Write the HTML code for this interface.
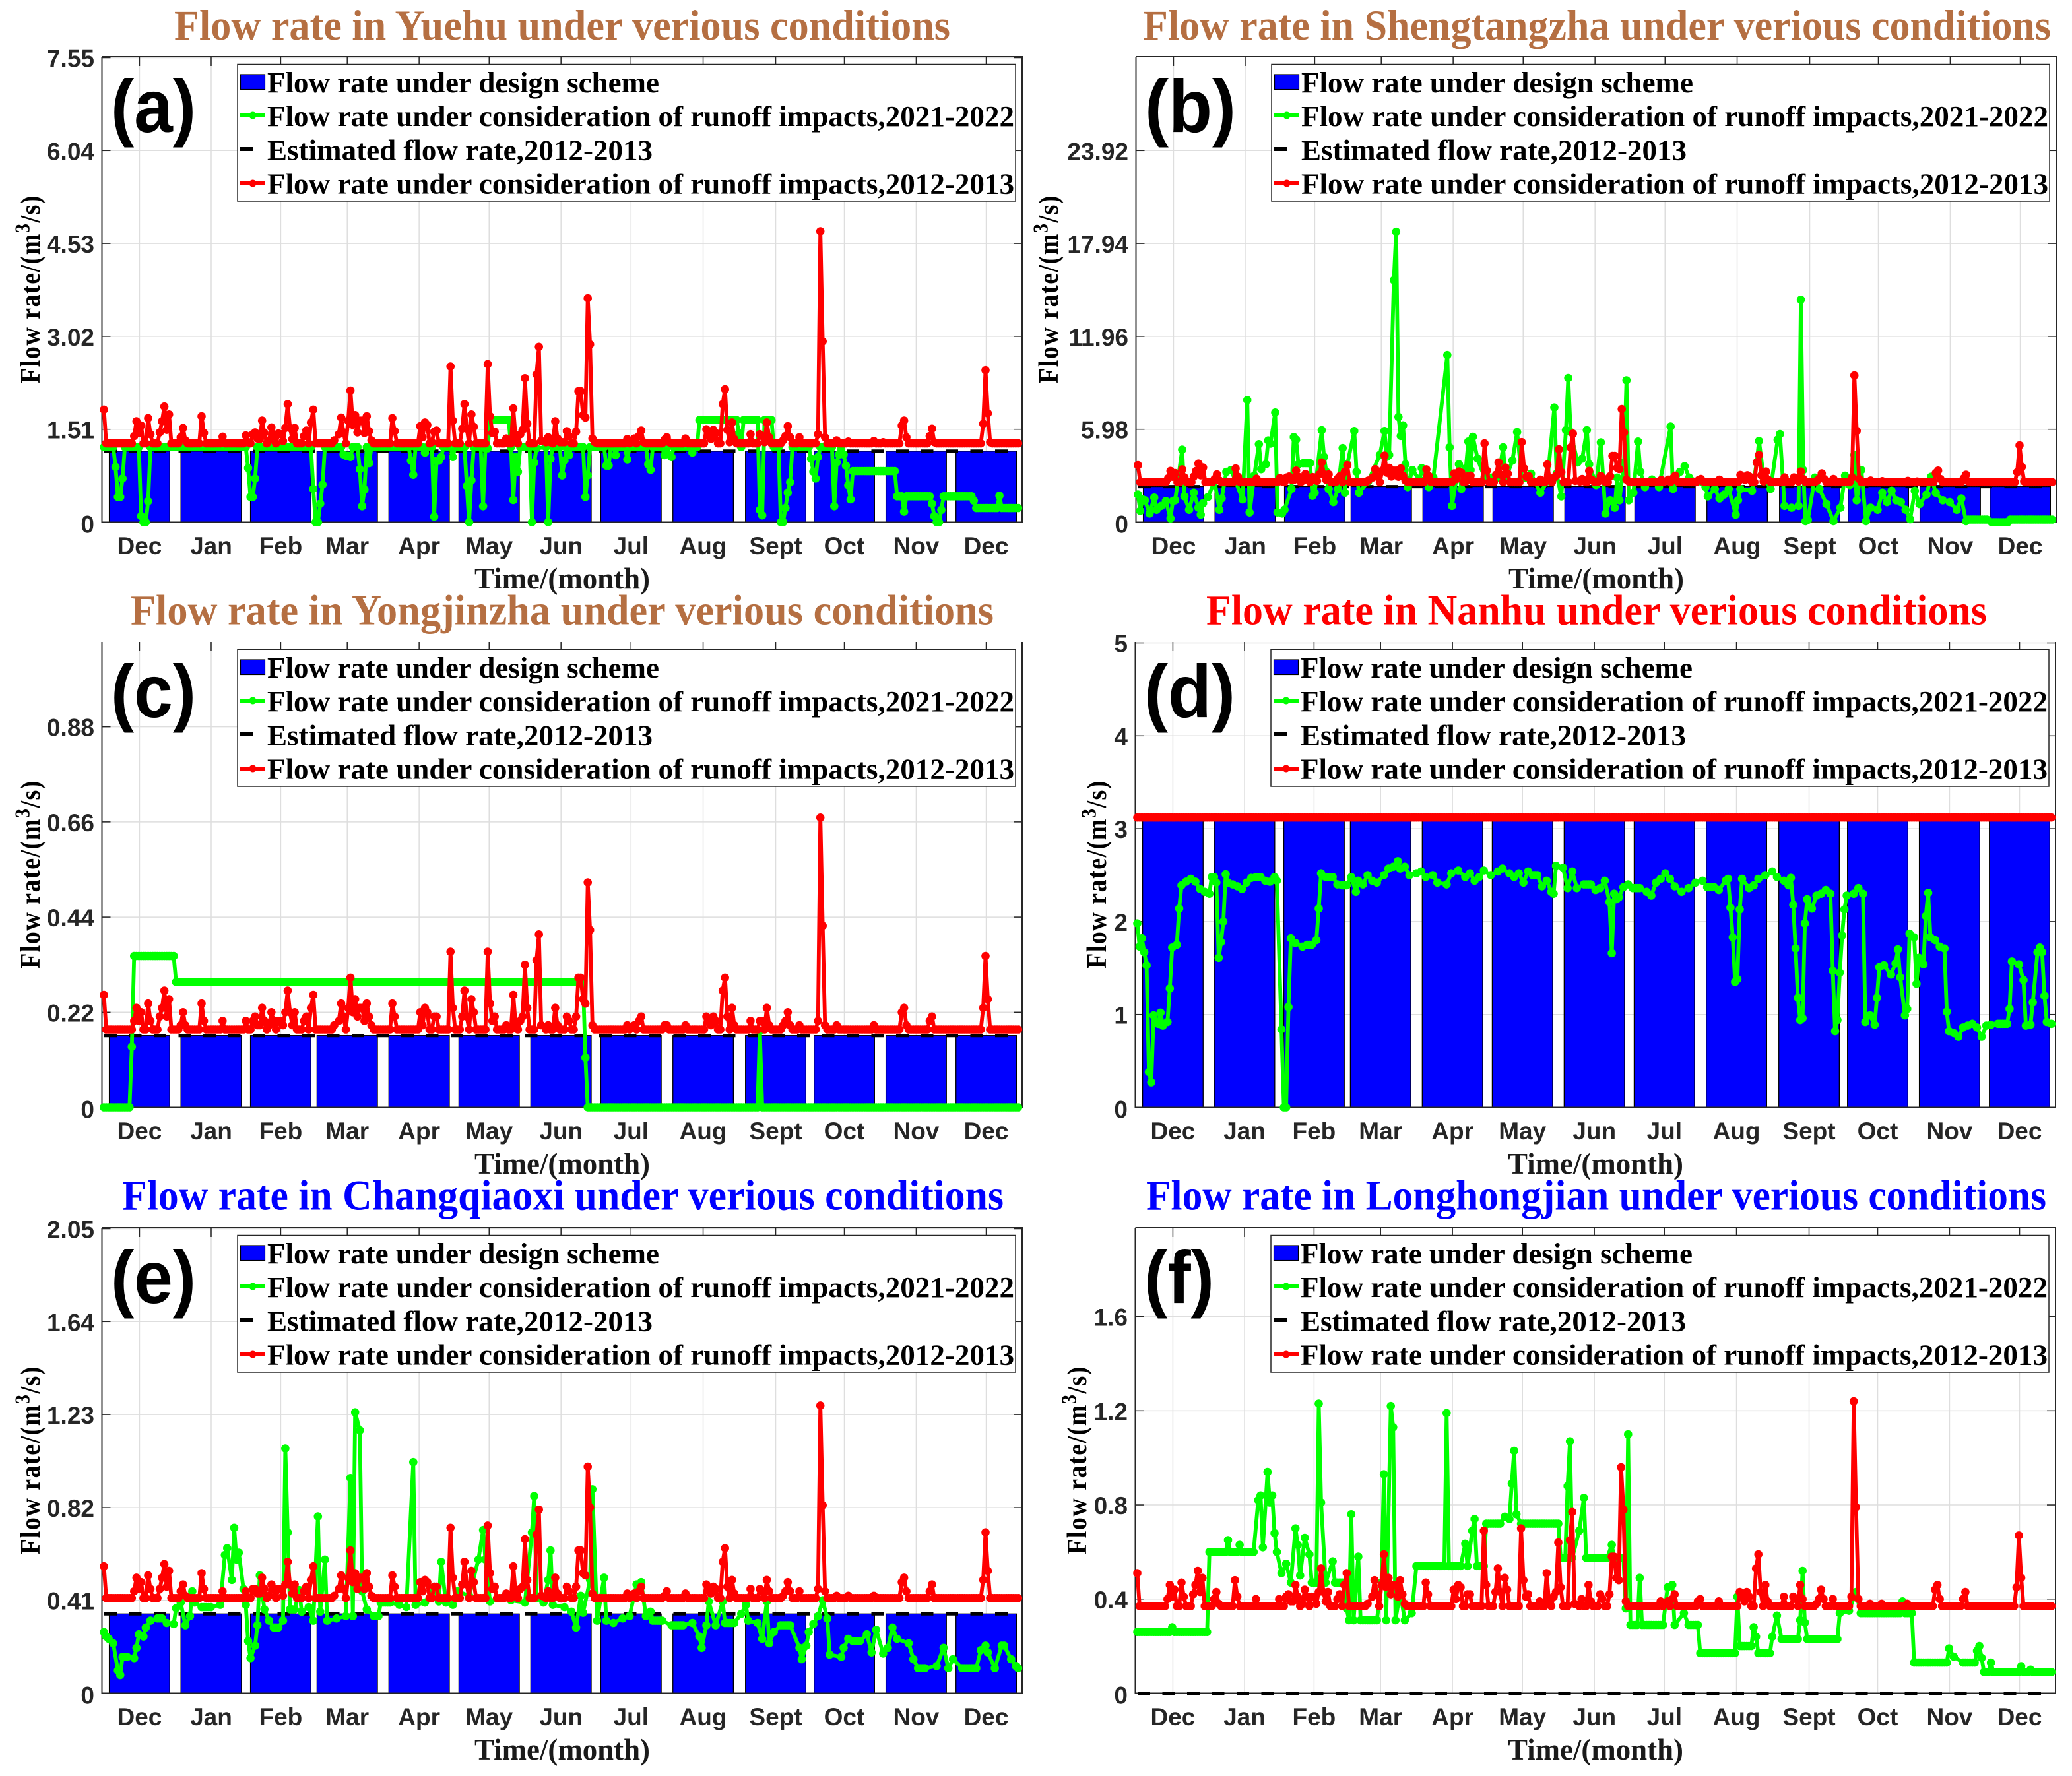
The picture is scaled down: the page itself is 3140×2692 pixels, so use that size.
<!DOCTYPE html>
<html lang="en">
<head>
<meta charset="utf-8">
<title>Flow rate under various conditions</title>
<style>
html,body{margin:0;padding:0;background:#fff;width:3140px;height:2692px;overflow:hidden}
svg{display:block}
.title{font-family:"Liberation Serif",serif;font-weight:bold;font-size:65px}
.leg{font-family:"Liberation Serif",serif;font-weight:bold;font-size:44px;fill:#000}
.tag{font-family:"Liberation Sans",sans-serif;font-weight:bold;font-size:113px;fill:#000}
.yl{font-family:"Liberation Serif",serif;font-weight:bold;font-size:38px;letter-spacing:1.5px;fill:#000}
.xl{font-family:"Liberation Serif",serif;font-weight:bold;font-size:45px;fill:#1a1a1a}
.tick{font-family:"Liberation Sans",sans-serif;font-weight:bold;font-size:37px;fill:#262626}
</style>
</head>
<body>
<svg id="chart" xmlns="http://www.w3.org/2000/svg" width="3140" height="2692" viewBox="0 0 3140 2692">
<rect x="0" y="0" width="3140" height="2692" fill="#fff"/>
<g id="plots"></g>

<g transform="translate(0,0)">
<text class="title" fill="#B56F42" x="264" y="60" textLength="1176" lengthAdjust="spacingAndGlyphs">Flow rate in Yuehu under verious conditions</text>
<text class="tag" x="168" y="200" textLength="129" lengthAdjust="spacingAndGlyphs">(a)</text>
<text class="yl" transform="translate(60,438) rotate(-90) scale(1,1.12)" text-anchor="middle">Flow rate/(m<tspan dy="-14" font-size="28">3</tspan><tspan dy="14">/s)</tspan></text>
<text class="xl" x="719" y="892" textLength="266" lengthAdjust="spacingAndGlyphs">Time/(month)</text>
<g>
<rect x="360" y="97.5" width="1179" height="207.5" fill="#fff" stroke="#262626" stroke-width="1.5"/>
<rect x="364.5" y="113" width="37" height="22.5" fill="#0000ff" stroke="#000" stroke-width="1.2"/>
<line x1="364" x2="402" y1="175" y2="175" stroke="#00ff00" stroke-width="6"/><circle cx="383" cy="175" r="5.5" fill="#00ff00"/>
<line x1="364" x2="384" y1="226" y2="226" stroke="#000" stroke-width="6"/>
<line x1="364" x2="402" y1="278" y2="278" stroke="#ff0000" stroke-width="6"/><circle cx="383" cy="278" r="5.5" fill="#ff0000"/>
<text class="leg" x="405" y="140" textLength="594" lengthAdjust="spacingAndGlyphs">Flow rate under design scheme</text>
<text class="leg" x="405" y="191" textLength="1132" lengthAdjust="spacingAndGlyphs">Flow rate under consideration of runoff impacts,2021-2022</text>
<text class="leg" x="405" y="242.5" textLength="584" lengthAdjust="spacingAndGlyphs">Estimated flow rate,2012-2013</text>
<text class="leg" x="405" y="293.5" textLength="1132" lengthAdjust="spacingAndGlyphs">Flow rate under consideration of runoff impacts,2012-2013</text>
</g>
</g>

<g transform="translate(1567,0)">
<text class="title" fill="#B56F42" x="165" y="60" textLength="1376" lengthAdjust="spacingAndGlyphs">Flow rate in Shengtangzha under verious conditions</text>
<text class="tag" x="168" y="200" textLength="138" lengthAdjust="spacingAndGlyphs">(b)</text>
<text class="yl" transform="translate(36,438) rotate(-90) scale(1,1.12)" text-anchor="middle">Flow rate/(m<tspan dy="-14" font-size="28">3</tspan><tspan dy="14">/s)</tspan></text>
<text class="xl" x="719" y="892" textLength="266" lengthAdjust="spacingAndGlyphs">Time/(month)</text>
<g>
<rect x="360" y="97.5" width="1179" height="207.5" fill="#fff" stroke="#262626" stroke-width="1.5"/>
<rect x="364.5" y="113" width="37" height="22.5" fill="#0000ff" stroke="#000" stroke-width="1.2"/>
<line x1="364" x2="402" y1="175" y2="175" stroke="#00ff00" stroke-width="6"/><circle cx="383" cy="175" r="5.5" fill="#00ff00"/>
<line x1="364" x2="384" y1="226" y2="226" stroke="#000" stroke-width="6"/>
<line x1="364" x2="402" y1="278" y2="278" stroke="#ff0000" stroke-width="6"/><circle cx="383" cy="278" r="5.5" fill="#ff0000"/>
<text class="leg" x="405" y="140" textLength="594" lengthAdjust="spacingAndGlyphs">Flow rate under design scheme</text>
<text class="leg" x="405" y="191" textLength="1132" lengthAdjust="spacingAndGlyphs">Flow rate under consideration of runoff impacts,2021-2022</text>
<text class="leg" x="405" y="242.5" textLength="584" lengthAdjust="spacingAndGlyphs">Estimated flow rate,2012-2013</text>
<text class="leg" x="405" y="293.5" textLength="1132" lengthAdjust="spacingAndGlyphs">Flow rate under consideration of runoff impacts,2012-2013</text>
</g>
</g>

<g transform="translate(0,887)">
<text class="title" fill="#B56F42" x="198" y="59.5" textLength="1308" lengthAdjust="spacingAndGlyphs">Flow rate in Yongjinzha under verious conditions</text>
<text class="tag" x="168" y="200" textLength="129" lengthAdjust="spacingAndGlyphs">(c)</text>
<text class="yl" transform="translate(60,438) rotate(-90) scale(1,1.12)" text-anchor="middle">Flow rate/(m<tspan dy="-14" font-size="28">3</tspan><tspan dy="14">/s)</tspan></text>
<text class="xl" x="719" y="892" textLength="266" lengthAdjust="spacingAndGlyphs">Time/(month)</text>
<g>
<rect x="360" y="97.5" width="1179" height="207.5" fill="#fff" stroke="#262626" stroke-width="1.5"/>
<rect x="364.5" y="113" width="37" height="22.5" fill="#0000ff" stroke="#000" stroke-width="1.2"/>
<line x1="364" x2="402" y1="175" y2="175" stroke="#00ff00" stroke-width="6"/><circle cx="383" cy="175" r="5.5" fill="#00ff00"/>
<line x1="364" x2="384" y1="226" y2="226" stroke="#000" stroke-width="6"/>
<line x1="364" x2="402" y1="278" y2="278" stroke="#ff0000" stroke-width="6"/><circle cx="383" cy="278" r="5.5" fill="#ff0000"/>
<text class="leg" x="405" y="140" textLength="594" lengthAdjust="spacingAndGlyphs">Flow rate under design scheme</text>
<text class="leg" x="405" y="191" textLength="1132" lengthAdjust="spacingAndGlyphs">Flow rate under consideration of runoff impacts,2021-2022</text>
<text class="leg" x="405" y="242.5" textLength="584" lengthAdjust="spacingAndGlyphs">Estimated flow rate,2012-2013</text>
<text class="leg" x="405" y="293.5" textLength="1132" lengthAdjust="spacingAndGlyphs">Flow rate under consideration of runoff impacts,2012-2013</text>
</g>
</g>

<g transform="translate(1566,887)">
<text class="title" fill="#ff0000" x="262" y="59.5" textLength="1183" lengthAdjust="spacingAndGlyphs">Flow rate in Nanhu under verious conditions</text>
<text class="tag" x="168" y="200" textLength="138" lengthAdjust="spacingAndGlyphs">(d)</text>
<text class="yl" transform="translate(110,438) rotate(-90) scale(1,1.12)" text-anchor="middle">Flow rate/(m<tspan dy="-14" font-size="28">3</tspan><tspan dy="14">/s)</tspan></text>
<text class="xl" x="719" y="892" textLength="266" lengthAdjust="spacingAndGlyphs">Time/(month)</text>
<g>
<rect x="360" y="97.5" width="1179" height="207.5" fill="#fff" stroke="#262626" stroke-width="1.5"/>
<rect x="364.5" y="113" width="37" height="22.5" fill="#0000ff" stroke="#000" stroke-width="1.2"/>
<line x1="364" x2="402" y1="175" y2="175" stroke="#00ff00" stroke-width="6"/><circle cx="383" cy="175" r="5.5" fill="#00ff00"/>
<line x1="364" x2="384" y1="226" y2="226" stroke="#000" stroke-width="6"/>
<line x1="364" x2="402" y1="278" y2="278" stroke="#ff0000" stroke-width="6"/><circle cx="383" cy="278" r="5.5" fill="#ff0000"/>
<text class="leg" x="405" y="140" textLength="594" lengthAdjust="spacingAndGlyphs">Flow rate under design scheme</text>
<text class="leg" x="405" y="191" textLength="1132" lengthAdjust="spacingAndGlyphs">Flow rate under consideration of runoff impacts,2021-2022</text>
<text class="leg" x="405" y="242.5" textLength="584" lengthAdjust="spacingAndGlyphs">Estimated flow rate,2012-2013</text>
<text class="leg" x="405" y="293.5" textLength="1132" lengthAdjust="spacingAndGlyphs">Flow rate under consideration of runoff impacts,2012-2013</text>
</g>
</g>

<g transform="translate(0,1775)">
<text class="title" fill="#0000ff" x="185" y="58.5" textLength="1336" lengthAdjust="spacingAndGlyphs">Flow rate in Changqiaoxi under verious conditions</text>
<text class="tag" x="168" y="200" textLength="129" lengthAdjust="spacingAndGlyphs">(e)</text>
<text class="yl" transform="translate(60,438) rotate(-90) scale(1,1.12)" text-anchor="middle">Flow rate/(m<tspan dy="-14" font-size="28">3</tspan><tspan dy="14">/s)</tspan></text>
<text class="xl" x="719" y="892" textLength="266" lengthAdjust="spacingAndGlyphs">Time/(month)</text>
<g>
<rect x="360" y="97.5" width="1179" height="207.5" fill="#fff" stroke="#262626" stroke-width="1.5"/>
<rect x="364.5" y="113" width="37" height="22.5" fill="#0000ff" stroke="#000" stroke-width="1.2"/>
<line x1="364" x2="402" y1="175" y2="175" stroke="#00ff00" stroke-width="6"/><circle cx="383" cy="175" r="5.5" fill="#00ff00"/>
<line x1="364" x2="384" y1="226" y2="226" stroke="#000" stroke-width="6"/>
<line x1="364" x2="402" y1="278" y2="278" stroke="#ff0000" stroke-width="6"/><circle cx="383" cy="278" r="5.5" fill="#ff0000"/>
<text class="leg" x="405" y="140" textLength="594" lengthAdjust="spacingAndGlyphs">Flow rate under design scheme</text>
<text class="leg" x="405" y="191" textLength="1132" lengthAdjust="spacingAndGlyphs">Flow rate under consideration of runoff impacts,2021-2022</text>
<text class="leg" x="405" y="242.5" textLength="584" lengthAdjust="spacingAndGlyphs">Estimated flow rate,2012-2013</text>
<text class="leg" x="405" y="293.5" textLength="1132" lengthAdjust="spacingAndGlyphs">Flow rate under consideration of runoff impacts,2012-2013</text>
</g>
</g>

<g transform="translate(1566,1775)">
<text class="title" fill="#0000ff" x="171" y="58.5" textLength="1364" lengthAdjust="spacingAndGlyphs">Flow rate in Longhongjian under verious conditions</text>
<text class="tag" x="168" y="200" textLength="106" lengthAdjust="spacingAndGlyphs">(f)</text>
<text class="yl" transform="translate(80,438) rotate(-90) scale(1,1.12)" text-anchor="middle">Flow rate/(m<tspan dy="-14" font-size="28">3</tspan><tspan dy="14">/s)</tspan></text>
<text class="xl" x="719" y="892" textLength="266" lengthAdjust="spacingAndGlyphs">Time/(month)</text>
<g>
<rect x="360" y="97.5" width="1179" height="207.5" fill="#fff" stroke="#262626" stroke-width="1.5"/>
<rect x="364.5" y="113" width="37" height="22.5" fill="#0000ff" stroke="#000" stroke-width="1.2"/>
<line x1="364" x2="402" y1="175" y2="175" stroke="#00ff00" stroke-width="6"/><circle cx="383" cy="175" r="5.5" fill="#00ff00"/>
<line x1="364" x2="384" y1="226" y2="226" stroke="#000" stroke-width="6"/>
<line x1="364" x2="402" y1="278" y2="278" stroke="#ff0000" stroke-width="6"/><circle cx="383" cy="278" r="5.5" fill="#ff0000"/>
<text class="leg" x="405" y="140" textLength="594" lengthAdjust="spacingAndGlyphs">Flow rate under design scheme</text>
<text class="leg" x="405" y="191" textLength="1132" lengthAdjust="spacingAndGlyphs">Flow rate under consideration of runoff impacts,2021-2022</text>
<text class="leg" x="405" y="242.5" textLength="584" lengthAdjust="spacingAndGlyphs">Estimated flow rate,2012-2013</text>
<text class="leg" x="405" y="293.5" textLength="1132" lengthAdjust="spacingAndGlyphs">Flow rate under consideration of runoff impacts,2012-2013</text>
</g>
</g>
</svg>

<script>
const months=["Dec","Jan","Feb","Mar","Apr","May","Jun","Jul","Aug","Sept","Oct","Nov","Dec"];
const monthDays=[15.3,46.1,76,104.6,135.5,165.6,196.5,226.6,257.6,288.8,318.3,349.2,379.3];

const ticksA=["0","1.51","3.02","4.53","6.04","7.55"];
const ticksB=["0","5.98","11.96","17.94","23.92"];
const ticksC=["0","0.22","0.44","0.66","0.88"];
const ticksD=["0","1","2","3","4","5"];
const ticksE=["0","0.41","0.82","1.23","1.64","2.05"];
const ticksF=["0","0.4","0.8","1.2","1.6"];

const designA=[1.155,1.155,1.155,1.155,1.155,1.155,1.155,1.155,1.155,1.155,1.155,1.155,1.155];
const designB=[2.29,2.29,2.29,2.29,2.29,2.29,2.29,2.29,2.29,2.29,2.29,2.29,2.29];
const designC=[0.166,0.166,0.166,0.166,0.166,0.166,0.166,0.166,0.166,0.166,0.166,0.166,0.166];
const designD=[3.12,3.12,3.12,3.12,3.12,3.12,3.12,3.12,3.12,3.12,3.12,3.12,3.12];
const designE=[0.35,0.35,0.35,0.35,0.35,0.35,0.35,0.35,0.35,0.35,0.35,0.35,0.35];
const designF=[0,0,0,0,0,0,0,0,0,0,0,0,0];

const estimatedA=[1.155];
const estimatedB=[2.29];
const estimatedC=[0.166];
const estimatedD=[3.12];
const estimatedE=[0.35];
const estimatedF=[0];

const redDays=[0,1,12,13,14,15,16,17,18,19,20,21,
23,24,25,26,27,28,29,32,33,34,35,36,
41,42,43,44,50,51,52,60,61,62,63,64,
65,66,67,68,69,70,71,72,73,74,75,76,
77,78,79,80,81,82,83,85,86,87,88,89,
90,91,98,99,101,102,103,104,105,106,107,108,
109,110,111,112,113,114,115,116,123,124,125,126,
135,136,137,138,139,140,141,142,143,144,148,149,
150,151,153,154,155,156,157,158,159,160,164,165,
166,167,168,169,172,173,174,175,176,177,178,179,
180,181,182,183,185,186,187,188,190,191,192,193,
194,195,196,198,199,200,201,202,203,204,205,206,
207,208,209,210,211,212,224,225,226,228,229,230,
231,232,233,240,241,242,243,244,249,250,251,258,
259,260,261,262,263,264,265,266,267,268,269,270,
271,272,277,278,279,281,282,283,284,285,286,287,
291,292,293,294,295,296,298,299,300,306,307,308,
309,310,311,314,315,316,319,320,321,330,331,332,
334,335,336,342,343,344,345,346,354,355,356,357,
358,376,377,378,379,380,381,382,393];

const redA=[1.83,1.28,1.28,1.40,1.64,1.45,1.57,1.28,1.28,1.69,1.43,1.28,
1.28,1.46,1.64,1.88,1.50,1.75,1.28,1.28,1.38,1.53,1.33,1.28,
1.28,1.72,1.45,1.28,1.28,1.39,1.28,1.28,1.41,1.30,1.28,1.43,
1.46,1.36,1.35,1.65,1.45,1.28,1.33,1.54,1.43,1.28,1.44,1.43,
1.32,1.53,1.92,1.53,1.35,1.53,1.28,1.28,1.40,1.49,1.28,1.62,
1.83,1.28,1.28,1.33,1.43,1.70,1.46,1.28,1.65,2.14,1.58,1.74,
1.46,1.65,1.65,1.45,1.72,1.48,1.33,1.28,1.28,1.69,1.48,1.28,
1.28,1.56,1.38,1.62,1.58,1.28,1.30,1.47,1.49,1.28,1.28,2.53,
1.65,1.28,1.28,1.52,1.92,1.52,1.28,1.75,1.55,1.28,1.28,2.57,
1.72,1.45,1.47,1.28,1.28,1.36,1.28,1.28,1.85,1.36,1.28,1.43,
1.50,2.34,1.60,1.28,1.28,2.40,2.85,1.32,1.30,1.38,1.30,1.28,
1.64,1.36,1.30,1.30,1.48,1.40,1.28,1.28,1.47,2.13,2.13,1.74,
1.70,3.64,2.89,1.36,1.30,1.28,1.28,1.35,1.28,1.36,1.28,1.40,
1.49,1.30,1.28,1.28,1.34,1.38,1.30,1.28,1.28,1.36,1.28,1.28,
1.51,1.43,1.35,1.50,1.45,1.28,1.28,1.92,2.16,1.50,1.30,1.62,
1.35,1.28,1.28,1.43,1.28,1.28,1.43,1.40,1.30,1.62,1.38,1.28,
1.28,1.33,1.40,1.56,1.38,1.28,1.28,1.38,1.28,1.28,1.43,4.73,
2.94,1.38,1.28,1.28,1.33,1.28,1.28,1.31,1.28,1.28,1.32,1.28,
1.28,1.30,1.28,1.28,1.57,1.65,1.38,1.28,1.28,1.40,1.52,1.30,
1.28,1.28,1.28,1.60,2.47,1.77,1.30,1.28,1.28];

const redB=[3.67,2.58,2.58,2.82,3.3,2.92,3.16,2.58,2.58,3.4,2.88,2.58,
2.58,2.94,3.3,3.77,3.02,3.52,2.58,2.58,2.78,3.08,2.68,2.58,
2.58,3.46,2.92,2.58,2.58,2.8,2.58,2.58,2.84,2.62,2.58,2.88,
2.94,2.74,2.72,3.32,2.92,2.58,2.68,3.1,2.88,2.58,2.9,2.88,
2.66,3.08,3.85,3.08,2.72,3.08,2.58,2.58,2.82,3.0,2.58,3.26,
3.67,2.58,2.58,2.68,2.88,3.42,2.94,2.58,3.32,4.29,3.18,3.5,
2.94,3.32,3.32,2.92,3.46,2.98,2.68,2.58,2.58,3.4,2.98,2.58,
2.58,3.14,2.78,3.26,3.18,2.58,2.62,2.96,3.0,2.58,2.58,5.07,
3.32,2.58,2.58,3.06,3.85,3.06,2.58,3.52,3.12,2.58,2.58,5.15,
3.46,2.92,2.96,2.58,2.58,2.74,2.58,2.58,3.71,2.74,2.58,2.88,
3.02,4.69,3.22,2.58,2.58,4.81,5.7,2.66,2.62,2.78,2.62,2.58,
3.3,2.74,2.62,2.62,2.98,2.82,2.58,2.58,2.96,4.27,4.27,3.5,
3.42,7.28,5.78,2.74,2.62,2.58,2.58,2.72,2.58,2.74,2.58,2.82,
3.0,2.62,2.58,2.58,2.7,2.78,2.62,2.58,2.58,2.74,2.58,2.58,
3.04,2.88,2.72,3.02,2.92,2.58,2.58,3.85,4.33,3.02,2.62,3.26,
2.72,2.58,2.58,2.88,2.58,2.58,2.88,2.82,2.62,3.26,2.78,2.58,
2.58,2.68,2.82,3.14,2.78,2.58,2.58,2.78,2.58,2.58,2.88,9.45,
5.88,2.78,2.58,2.58,2.68,2.58,2.58,2.64,2.58,2.58,2.66,2.58,
2.58,2.62,2.58,2.58,3.16,3.32,2.78,2.58,2.58,2.82,3.06,2.62,
2.58,2.58,2.58,3.22,4.95,3.56,2.62,2.58,2.58];

const redC=[.26,.18,.18,.20,.23,.20,.22,.18,.18,.24,.20,.18,
.18,.21,.23,.27,.21,.25,.18,.18,.19,.22,.19,.18,
.18,.24,.20,.18,.18,.20,.18,.18,.20,.18,.18,.20,
.21,.19,.19,.23,.20,.18,.19,.22,.20,.18,.20,.20,
.19,.22,.27,.22,.19,.22,.18,.18,.20,.21,.18,.23,
.26,.18,.18,.19,.20,.24,.21,.18,.23,.30,.22,.25,
.21,.23,.23,.20,.24,.21,.19,.18,.18,.24,.21,.18,
.18,.22,.19,.23,.22,.18,.18,.21,.21,.18,.18,.36,
.23,.18,.18,.21,.27,.21,.18,.25,.22,.18,.18,.36,
.24,.20,.21,.18,.18,.19,.18,.18,.26,.19,.18,.20,
.21,.33,.23,.18,.18,.34,.40,.19,.18,.19,.18,.18,
.23,.19,.18,.18,.21,.20,.18,.18,.21,.30,.30,.25,
.24,.52,.41,.19,.18,.18,.18,.19,.18,.19,.18,.20,
.21,.18,.18,.18,.19,.19,.18,.18,.18,.19,.18,.18,
.21,.20,.19,.21,.20,.18,.18,.27,.30,.21,.18,.23,
.19,.18,.18,.20,.18,.18,.20,.20,.18,.23,.19,.18,
.18,.19,.20,.22,.19,.18,.18,.19,.18,.18,.20,.67,
.42,.19,.18,.18,.19,.18,.18,.18,.18,.18,.19,.18,
.18,.18,.18,.18,.22,.23,.19,.18,.18,.20,.21,.18,
.18,.18,.18,.23,.35,.25,.18,.18,.18];

const redDaysD=[0,393];
const redD=[3.12,3.12];

const redE=[.56,.42,.42,.45,.51,.46,.49,.42,.42,.52,.46,.42,
.42,.46,.51,.57,.47,.54,.42,.42,.45,.48,.43,.42,
.42,.53,.46,.42,.42,.45,.42,.42,.45,.42,.42,.46,
.46,.44,.44,.51,.46,.42,.43,.48,.46,.42,.46,.46,
.43,.48,.58,.48,.44,.48,.42,.42,.45,.47,.42,.50,
.56,.42,.42,.43,.46,.52,.46,.42,.51,.63,.49,.53,
.46,.51,.51,.46,.53,.47,.43,.42,.42,.52,.47,.42,
.42,.49,.45,.50,.49,.42,.42,.47,.47,.42,.42,.73,
.51,.42,.42,.48,.58,.48,.42,.54,.49,.42,.42,.74,
.53,.46,.47,.42,.42,.44,.42,.42,.56,.44,.42,.46,
.47,.68,.50,.42,.42,.70,.81,.43,.42,.45,.42,.42,
.51,.44,.42,.42,.47,.45,.42,.42,.47,.63,.63,.53,
.52,1.0,.82,.44,.42,.42,.42,.44,.42,.44,.42,.45,
.47,.42,.42,.42,.43,.45,.42,.42,.42,.44,.42,.42,
.48,.46,.44,.47,.46,.42,.42,.58,.64,.47,.42,.50,
.44,.42,.42,.46,.42,.42,.46,.45,.42,.50,.45,.42,
.42,.43,.45,.49,.45,.42,.42,.45,.42,.42,.46,1.27,
.83,.45,.42,.42,.43,.42,.42,.43,.42,.42,.43,.42,
.42,.42,.42,.42,.49,.51,.45,.42,.42,.45,.48,.42,
.42,.42,.42,.50,.71,.54,.42,.42,.42];

const redF=[.51,.37,.37,.40,.46,.41,.44,.37,.37,.47,.41,.37,
.37,.42,.46,.52,.43,.49,.37,.37,.40,.43,.38,.37,
.37,.48,.41,.37,.37,.40,.37,.37,.40,.37,.37,.41,
.42,.39,.39,.46,.41,.37,.38,.44,.41,.37,.41,.41,
.38,.43,.53,.43,.39,.43,.37,.37,.40,.42,.37,.46,
.51,.37,.37,.38,.41,.48,.42,.37,.46,.59,.45,.49,
.42,.46,.46,.41,.48,.42,.38,.37,.37,.47,.42,.37,
.37,.44,.40,.46,.45,.37,.37,.42,.42,.37,.37,.69,
.46,.37,.37,.43,.53,.43,.37,.49,.44,.37,.37,.70,
.48,.41,.42,.37,.37,.39,.37,.37,.51,.39,.37,.41,
.43,.64,.45,.37,.37,.65,.77,.38,.37,.40,.37,.37,
.46,.39,.37,.37,.42,.40,.37,.37,.42,.58,.58,.49,
.48,.96,.78,.39,.37,.37,.37,.39,.37,.39,.37,.40,
.42,.37,.37,.37,.39,.40,.37,.37,.37,.39,.37,.37,
.43,.41,.39,.43,.41,.37,.37,.53,.59,.43,.37,.46,
.39,.37,.37,.41,.37,.37,.41,.40,.37,.46,.40,.37,
.37,.38,.40,.44,.40,.37,.37,.40,.37,.37,.41,1.24,
.79,.40,.37,.37,.38,.37,.37,.38,.37,.37,.38,.37,
.37,.37,.37,.37,.44,.46,.40,.37,.37,.40,.43,.37,
.37,.37,.37,.45,.67,.49,.37,.37,.37];

const greenDaysA=[0,4,5,6,7,8,9,15,16,17,18,19,20,61,62,63,64,65,66,89,90,91,92,93,94,95,102,103,104,105,106,107,109,110,111,112,113,114,115,131,132,133,134,137,138,139,141,142,143,144,145,146,149,150,151,155,156,157,158,159,162,163,164,165,166,174,175,176,177,178,179,183,184,185,186,190,191,192,193,196,197,198,199,200,201,206,207,208,209,215,216,217,218,219,220,221,224,225,226,233,234,235,236,240,241,242,243,244,245,252,253,254,255,256,272,273,274,275,281,282,283,284,287,288,290,291,292,293,294,295,296,303,304,305,306,307,308,313,314,315,316,317,318,319,320,321,322,340,341,343,344,345,355,356,357,358,359,360,361,373,374,375,384,385,386,393];
const greenA=[1.22,1.22,.90,.41,.41,.71,1.22,1.22,.10,0,0,.34,1.22,1.22,.88,.41,.41,.71,1.22,1.22,.54,0,0,.3,.61,1.22,1.22,1.1,1.08,1.08,1.06,1.22,1.22,.86,.26,.53,1.22,.96,1.22,1.22,1.0,.77,1.22,1.22,1.13,1.22,1.22,.09,1.0,1.0,1.06,1.22,1.22,1.06,1.22,1.22,.59,0,.68,1.22,1.22,.26,1.2,1.2,1.66,1.66,1.22,.36,1.06,.82,1.22,1.22,0,.97,1.2,1.22,0,1.03,1.22,1.22,.76,1.0,1.2,1.09,1.22,1.22,.41,.76,1.22,1.22,.92,.92,1.22,1.22,1.09,1.22,1.22,1.02,1.22,1.22,.94,.85,1.22,1.22,1.09,1.22,1.1,1.06,1.22,1.22,1.13,1.22,1.22,1.66,1.66,1.45,1.22,1.66,1.66,.2,.11,1.66,1.66,1.22,1.22,0,0,.23,.48,.65,1.22,1.22,1.03,.82,.71,1.06,1.22,1.22,.26,.97,1.1,1.19,1.1,.92,.6,.37,.83,.83,.42,.42,.17,.42,.42,.3,.1,0,0,.2,.42,.42,.35,.23,.23,.43,.23,.23];

const greenDaysB=[0,1,2,3,5,7,8,10,12,14,15,16,19,20,22,24,26,27,28,30,33,35,36,38,40,42,45,47,48,50,52,53,55,56,57,59,60,62,63,66,67,68,69,71,74,75,76,79,80,81,82,84,86,88,89,90,93,94,95,99,104,106,107,108,110,111,112,113,114,115,116,118,121,122,125,127,133,134,135,138,139,141,142,143,144,146,149,155,157,158,161,163,165,167,169,173,176,179,180,182,184,185,186,189,191,193,194,197,199,201,203,205,206,207,209,210,211,213,215,216,218,221,224,229,230,233,235,237,241,244,245,248,250,252,254,257,258,259,264,266,267,269,272,275,276,278,281,284,285,286,287,288,291,293,296,299,302,304,306,308,309,311,313,315,318,320,322,324,326,328,330,332,334,336,339,341,343,346,349,352,354,356,357,365,367,374,375,393];
const greenB=[1.78,.73,1.46,1.41,.56,1.58,.8,1.05,1.36,.24,1.36,1.41,4.67,1.66,.8,1.9,.93,.49,1.22,1.61,2.63,.8,1.53,3.24,3.36,2.63,1.46,7.86,.63,3.0,5.02,3.41,3.73,5.26,5.06,7.06,.63,.56,.8,2.14,5.48,5.31,3.73,3.8,3.8,1.7,1.9,5.92,4.21,3.24,2.14,1.29,2.14,4.77,1.9,3.73,5.87,3.24,1.9,2.63,4.33,5.87,4.21,4.33,15.58,18.7,6.77,5.55,6.23,3.73,2.26,3.36,2.75,3.48,2.26,2.87,10.76,4.82,1.05,3.73,2.14,3.48,5.19,3.36,5.5,4.09,2.87,2.87,4.82,2.75,3.97,5.8,2.87,2.87,3.12,1.9,2.63,7.38,3.12,1.66,5.92,9.28,5.8,3.85,4.09,5.92,3.73,2.39,5.14,.56,1.41,.93,2.87,1.41,3.85,9.13,1.41,1.9,5.19,3.24,2.26,2.75,2.26,6.16,2.14,3.24,3.6,2.87,2.63,2.26,1.66,2.14,1.53,1.78,2.14,.49,1.41,2.14,2.02,3.85,5.23,2.87,2.14,5.31,5.67,1.05,.93,1.05,14.32,3.36,.07,.15,2.87,2.14,1.17,.07,.93,2.99,2.39,4.33,1.41,3.36,.07,.93,.8,1.9,1.29,2.02,1.41,1.29,.8,.19,2.02,1.17,1.78,2.92,1.9,1.41,1.29,.8,1.53,.07,.17,.17,0,0,.17,.17];

const greenDaysC=[0,11,12,13,30,31,206,207,208,281,282,283,393];
const greenC=[0,0,.14,.35,.35,.29,.29,.115,0,0,.176,0,0];

const greenDaysD=[0,1,2,3,4,5,6,7,9,10,11,13,14,15,17,18,19,21,23,25,27,29,31,32,33,34,35,36,37,38,39,41,43,45,47,49,51,53,55,57,59,60,62,63,64,65,66,68,71,73,75,77,78,79,81,84,86,88,90,92,94,95,97,99,101,103,106,108,110,112,113,115,117,120,122,124,127,129,133,135,138,141,143,145,147,149,152,155,157,160,162,164,166,168,170,172,174,176,178,179,180,183,185,187,189,192,195,197,199,201,203,204,205,206,207,209,211,213,216,219,221,223,225,227,229,231,234,237,240,243,245,248,250,253,254,255,256,257,258,259,260,263,265,267,270,273,275,278,280,281,282,283,284,285,286,287,288,290,292,294,296,298,299,300,301,302,303,304,305,308,310,312,313,315,317,318,319,321,324,326,327,328,330,331,332,334,335,336,338,339,340,341,343,345,347,348,349,351,353,355,357,359,361,363,365,367,370,374,375,376,379,381,382,384,385,387,388,389,390,391,393];
const greenD=[1.98,1.73,1.82,1.67,1.53,.38,.27,.99,.9,1.02,.88,.92,1.28,1.72,1.75,2.14,2.39,2.43,2.46,2.43,2.35,2.32,2.3,2.48,2.48,2.42,1.61,1.78,2.0,2.51,2.42,2.4,2.38,2.35,2.42,2.47,2.48,2.48,2.44,2.43,2.48,2.44,.84,0,0,1.08,1.82,1.77,1.73,1.75,1.75,1.8,2.14,2.52,2.48,2.48,2.4,2.39,2.39,2.48,2.32,2.44,2.4,2.5,2.44,2.42,2.5,2.57,2.59,2.65,2.57,2.59,2.5,2.52,2.54,2.48,2.5,2.42,2.4,2.52,2.55,2.48,2.52,2.44,2.48,2.55,2.5,2.54,2.57,2.52,2.48,2.52,2.42,2.54,2.5,2.5,2.38,2.44,2.32,2.3,2.6,2.58,2.36,2.54,2.36,2.4,2.4,2.34,2.36,2.44,2.21,1.66,2.3,2.24,2.26,2.37,2.4,2.36,2.36,2.32,2.28,2.42,2.46,2.52,2.46,2.38,2.32,2.36,2.42,2.44,2.37,2.37,2.34,2.44,2.46,2.15,1.83,1.35,1.38,2.13,2.46,2.36,2.39,2.46,2.5,2.54,2.48,2.44,2.39,2.47,2.18,1.71,1.18,.94,.96,1.98,2.24,2.14,2.28,2.3,2.34,2.3,1.47,.82,.94,1.45,1.85,2.13,2.28,2.3,2.36,2.3,.92,.99,.89,1.18,1.51,1.53,1.43,1.55,1.7,1.4,.99,1.06,1.87,1.83,1.33,1.61,1.54,2.06,2.31,1.83,1.8,1.73,1.71,1.03,.82,.8,.76,.86,.88,.9,.86,.76,.88,.89,.9,.9,1.06,1.57,1.54,1.37,.88,.89,1.13,1.67,1.72,1.67,1.2,.92,.9];

const greenDaysE=[0,1,2,4,6,7,8,10,13,14,15,17,18,20,23,25,27,30,31,33,35,37,38,39,42,46,50,52,53,55,56,57,58,60,61,62,63,65,66,67,69,71,73,75,77,78,79,80,82,84,85,88,90,92,93,95,96,100,104,106,107,108,110,111,113,116,118,119,123,127,130,133,134,138,142,144,145,147,150,152,157,161,163,164,166,171,175,181,184,185,186,189,191,192,193,198,201,203,205,206,209,210,212,215,216,219,223,226,229,231,233,235,236,240,244,249,253,256,257,259,260,263,266,267,271,274,276,277,281,283,285,286,288,291,295,299,300,302,303,305,307,309,311,312,317,318,320,322,325,328,330,332,335,337,339,341,346,348,350,353,358,361,363,365,369,375,377,379,380,383,386,387,390,392,393];
const greenE=[.27,.25,.24,.22,.1,.08,.16,.16,.155,.2,.26,.25,.29,.32,.33,.33,.31,.305,.375,.4,.3,.34,.45,.4,.38,.38,.39,.61,.64,.5,.73,.59,.62,.46,.39,.23,.155,.21,.3,.52,.37,.32,.29,.29,.32,1.08,.71,.37,.37,.455,.36,.38,.32,.78,.36,.59,.32,.33,.34,.95,.34,1.24,1.16,.45,.37,.34,.34,.4,.4,.39,.38,1.02,.39,.4,.47,.405,.58,.4,.39,.45,.43,.59,.72,.59,.405,.42,.41,.4,.71,.87,.42,.4,.5,.63,.39,.38,.36,.29,.43,.355,.5,.9,.32,.51,.32,.31,.33,.34,.48,.49,.34,.36,.32,.32,.3,.3,.31,.25,.2,.3,.405,.3,.405,.31,.31,.35,.39,.32,.31,.24,.405,.22,.27,.3,.3,.2,.15,.21,.27,.305,.34,.41,.33,.17,.16,.2,.24,.23,.23,.26,.18,.28,.175,.2,.29,.24,.22,.15,.11,.11,.12,.2,.11,.15,.11,.11,.19,.21,.18,.11,.21,.21,.15,.12,.11];

const greenDaysF=[0,14,15,16,30,31,38,39,40,43,44,45,50,52,53,54,56,57,58,59,60,62,64,66,68,69,70,72,74,75,77,78,79,81,84,85,89,90,91,92,93,95,96,103,105,106,107,109,110,111,113,115,118,120,132,133,134,139,141,142,144,145,146,149,150,156,158,160,161,162,163,165,181,182,184,185,186,187,190,192,193,202,204,205,209,210,211,212,215,216,217,226,228,230,231,235,237,241,242,257,258,259,264,265,266,267,272,273,275,277,284,285,286,287,288,301,302,306,309,311,328,329,330,333,334,348,349,351,355,360,361,362,363,364,366,367,368,379,380,381,383,384,385,393];
const greenF=[.26,.26,.28,.26,.26,.6,.6,.65,.6,.6,.63,.6,.6,.82,.84,.62,.94,.81,.84,.68,.6,.51,.55,.47,.7,.63,.5,.66,.59,.47,.47,1.23,.81,.47,.56,.47,.47,.36,.31,.76,.31,.58,.31,.31,.47,.93,.31,1.22,1.13,.31,.43,.31,.34,.54,.54,1.19,.54,.54,.635,.54,.69,.74,.54,.54,.72,.72,.75,.74,.89,1.03,.76,.72,.72,.575,.575,.88,1.07,.575,.69,.83,.575,.575,.63,.575,.575,.36,1.1,.29,.29,.49,.29,.29,.45,.46,.29,.34,.29,.29,.17,.17,.41,.2,.2,.28,.24,.17,.17,.24,.33,.23,.23,.31,.52,.3,.23,.23,.34,.35,.43,.34,.34,.39,.34,.34,.13,.13,.19,.155,.13,.13,.18,.2,.15,.09,.09,.13,.09,.09,.115,.09,.09,.1,.09,.09];

const panels=[
 {id:"a",ox:0,oy:0,ymax:7.55,ticks:ticksA,bars:designA,est:estimatedA,gd:greenDaysA,gv:greenA,rd:redDays,rv:redA,labelRight:143,topLine:true},
 {id:"b",ox:1567,oy:0,ymax:29.9,ticks:ticksB,bars:designB,est:estimatedB,gd:greenDaysB,gv:greenB,rd:redDays,rv:redB,labelRight:143,topLine:true},
 {id:"c",ox:0,oy:887,ymax:1.074,ticks:ticksC,bars:designC,est:estimatedC,gd:greenDaysC,gv:greenC,rd:redDays,rv:redC,labelRight:143,topLine:false},
 {id:"d",ox:1566,oy:887,ymax:5,ticks:ticksD,bars:designD,est:estimatedD,gd:greenDaysD,gv:greenD,rd:redDaysD,rv:redD,labelRight:143,topLine:false},
 {id:"e",ox:0,oy:1775,ymax:2.05,ticks:ticksE,bars:designE,est:estimatedE,gd:greenDaysE,gv:greenE,rd:redDays,rv:redE,labelRight:143,topLine:true},
 {id:"f",ox:1566,oy:1775,ymax:1.973,ticks:ticksF,bars:designF,est:estimatedF,gd:greenDaysF,gv:greenF,rd:redDays,rv:redF,labelRight:143,topLine:true}
];

const NS="http://www.w3.org/2000/svg";
const root=document.getElementById("plots");
function node(parent,tag,attrs){
  const el=document.createElementNS(NS,tag);
  for(const k in attrs){el.setAttribute(k,attrs[k]);}
  parent.appendChild(el);
  return el;
}
function drawSeries(group,days,values,X,Y,color){
  const n=Math.min(days.length,values.length);
  let pts="";
  for(let i=0;i<n;i++){pts+=X(days[i]).toFixed(1)+","+Y(values[i]).toFixed(1)+" ";}
  const line=node(group,"polyline",{points:pts,fill:"none",stroke:color,"stroke-width":5.8,"stroke-linejoin":"round"});
  
  
  for(let i=0;i<n;i++){
    const c=node(group,"circle",{cx:X(days[i]).toFixed(1),cy:Y(values[i]).toFixed(1),r:6.3,fill:color});
    
    
    if(i<n-1&&values[i]===values[i+1]){
      for(let d=days[i]+1;d<days[i+1];d++){
        const f=node(group,"circle",{cx:X(d).toFixed(1),cy:Y(values[i]).toFixed(1),r:6.3,fill:color});
        
        
      }
    }
  }
}
panels.forEach(function(p){
  const left=154.5+p.ox,right=1549+p.ox,top=86+p.oy,base=791.5+p.oy,tickTop=87.5+p.oy;
  const X=function(d){return 157.5+p.ox+d*3.525;};
  const Y=function(v){return base-(v/p.ymax)*(base-tickTop);};
  const g=node(root,"g",{});
  
  

  p.ticks.forEach(function(t){
    const v=parseFloat(t),y=Y(v);
    if(v>0){
      const gl=node(g,"line",{x1:left,x2:right,y1:y,y2:y,stroke:"#dedede","stroke-width":1.5});
      
      
    }
    const tl=node(g,"line",{x1:left,x2:left+13,y1:y,y2:y,stroke:"#262626","stroke-width":1.5});
    
    
    const tr=node(g,"line",{x1:right-13,x2:right,y1:y,y2:y,stroke:"#262626","stroke-width":1.5});
    
    
    const lab=node(g,"text",{x:p.ox+p.labelRight,y:y+(v===0?16:14),"text-anchor":"end","class":"tick"});
    lab.textContent=t;
    
    
  });

  monthDays.forEach(function(d,i){
    const x=X(d);
    const gl=node(g,"line",{x1:x,x2:x,y1:top,y2:base,stroke:"#dedede","stroke-width":1.5});
    
    
    const tk=node(g,"line",{x1:x,x2:x,y1:top,y2:top+14,stroke:"#262626","stroke-width":1.5});
    
    
    const lab=node(g,"text",{x:x,y:base+48.5,"text-anchor":"middle","class":"tick"});
    lab.textContent=months[i];
    
    
  });

  p.bars.forEach(function(v,i){
    if(v<=0){return;}
    const w=26*3.525,x=X(monthDays[i])-w/2,y=Y(v);
    const b=node(g,"rect",{x:x,y:y,width:w,height:base-y,fill:"#0000ff",stroke:"#000","stroke-width":1.3});
    
    
  });

  const axes=node(g,"path",{d:"M"+left+" "+top+"V"+base+"H"+right+"V"+top+(p.topLine?"H"+left:""),fill:"none",stroke:"#262626","stroke-width":2});
  
  

  const est=node(g,"line",{x1:158+p.ox,x2:1540+p.ox,y1:Y(p.est[0]),y2:Y(p.est[0]),stroke:"#000","stroke-width":5,"stroke-dasharray":"19 18.5"});
  
  

  const gg=node(g,"g",{});
  
  
  drawSeries(gg,p.gd,p.gv,X,Y,"#00ff00");

  const gr=node(g,"g",{});
  
  
  drawSeries(gr,p.rd,p.rv,X,Y,"#ff0000");
});
</script>
</body>
</html>
